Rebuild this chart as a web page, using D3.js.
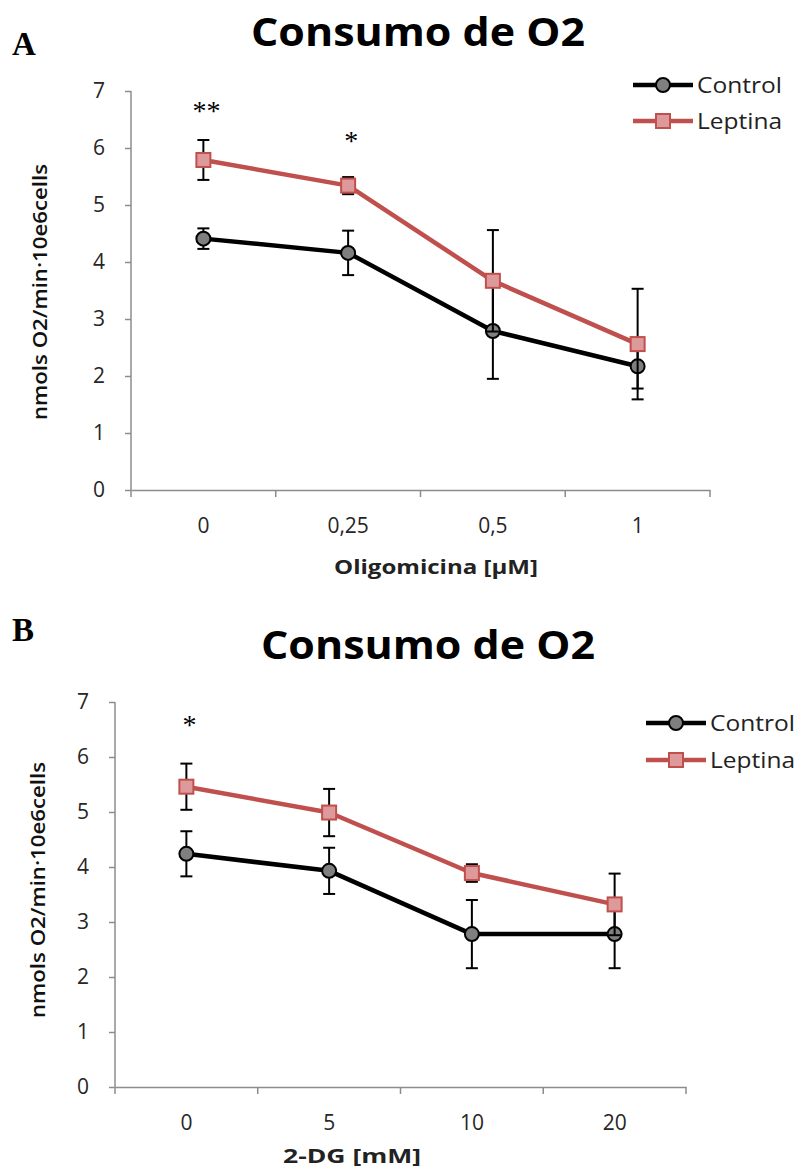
<!DOCTYPE html>
<html><head>
<meta charset="UTF-8">
<title>Consumo de O2</title>
<style>
  body { margin: 0; padding: 0; background: #fff; }
  svg { display: block; }
</style>
</head>
<body>
<svg id="chart" width="804" height="1171"></svg>
<script src="https://d3js.org/d3.v7.min.js"></script>
<script>
  // values
  const yTicks = [0, 1, 2, 3, 4, 5, 6, 7];

  const doseA = ["0", "0,25", "0,5", "1"];
  const controlA = [4.41, 4.16, 2.79, 2.17];
  const controlErrA = [0.18, 0.39, 0.84, 0.39];
  const leptinaA = [5.79, 5.34, 3.67, 2.56];
  const leptinaErrA = [0.35, 0.15, 0.89, 0.97];
  const starsA = ["**", "*", "", ""];
  const starLevelA = [6.7, 6.18, 0, 0];

  const doseB = ["0", "5", "10", "20"];
  const controlB = [4.24, 3.93, 2.78, 2.78];
  const controlErrB = [0.41, 0.42, 0.62, 0.62];
  const leptinaB = [5.46, 4.99, 3.89, 3.32];
  const leptinaErrB = [0.42, 0.43, 0.16, 0.56];
  const starsB = ["*", "", "", ""];
  const starLevelB = [6.63, 0, 0, 0];

  const seriesNames = ["Control", "Leptina"];

  const svg = d3.select("#chart");
  const sans = "'Open Sans', 'Noto Sans', sans-serif";
  const serif = "'Liberation Serif', 'DejaVu Serif', serif";
  const red = "#C0504D";

  function drawPanel(p) {
    const g = svg.append("g");

    // panel letter + title
    g.append("text").attr("x", 12).attr("y", p.letterY)
      .attr("font-family", serif).attr("font-weight", "bold").attr("font-size", 33)
      .text(p.letter);
    g.append("text").attr("x", p.titleX).attr("y", p.titleY)
      .attr("text-anchor", "middle")
      .attr("font-family", sans).attr("font-weight", "bold").attr("font-size", 39)
      .attr("textLength", 334).attr("lengthAdjust", "spacingAndGlyphs")
      .text("Consumo de O2");

    const x = d3.scaleBand().domain(p.dose).range([p.x0, p.x1]);
    const y = d3.scaleLinear().domain([0, 7]).range([p.y0, p.y1]);
    const cx = d => x(d) + x.bandwidth() / 2;

    // y axis
    const yAxis = g.append("g").attr("transform", `translate(${p.x0},0)`)
      .call(d3.axisLeft(y).tickValues(yTicks).tickSize(6).tickPadding(p.yPad).tickFormat(d3.format("d")));
    yAxis.select(".domain").attr("stroke", "#8c8c8c").attr("stroke-width", 1.5)
      .attr("d", `M0,${p.y1}V${p.y0}`);
    yAxis.selectAll(".tick line").attr("stroke", "#8c8c8c").attr("stroke-width", 1.5);
    yAxis.selectAll(".tick text").attr("font-family", sans).attr("font-size", 21).attr("fill", "#262626");

    // x axis
    const xAxis = g.append("g").attr("transform", `translate(0,${p.y0})`)
      .call(d3.axisBottom(x).tickSize(0).tickPadding(p.xPad));
    xAxis.select(".domain").attr("stroke", "#8c8c8c").attr("stroke-width", 1.5);
    xAxis.selectAll(".tick text").attr("font-family", sans).attr("font-size", 21).attr("fill", "#262626");
    const bounds = p.dose.map(d => x(d)).concat([p.x1]);
    xAxis.selectAll(".bound").data(bounds).join("line")
      .attr("x1", d => d).attr("x2", d => d).attr("y1", 0).attr("y2", 7)
      .attr("stroke", "#8c8c8c").attr("stroke-width", 1.5);

    // axis titles
    g.append("text").attr("x", p.xTitleX).attr("y", p.xTitleY)
      .attr("text-anchor", "middle")
      .attr("font-family", sans).attr("font-weight", "bold").attr("font-size", 20).attr("fill", "#222")
      .attr("textLength", p.xTitleLen).attr("lengthAdjust", "spacingAndGlyphs")
      .text(p.xTitle);
    g.append("text")
      .attr("transform", `translate(${p.yTitleX},${p.yTitleY}) rotate(-90)`)
      .attr("text-anchor", "middle")
      .attr("font-family", sans).attr("font-weight", 600).attr("font-size", 19).attr("fill", "#111")
      .attr("textLength", 256).attr("lengthAdjust", "spacingAndGlyphs")
      .text("nmols O2/min·10e6cells");

    const line = d3.line().x((v, i) => cx(p.dose[i])).y(v => y(v));

    function errorBars(vals, errs) {
      const eg = g.append("g").attr("stroke", "#000").attr("stroke-width", 2);
      vals.forEach((v, i) => {
        const xc = cx(p.dose[i]);
        eg.append("line").attr("x1", xc).attr("x2", xc)
          .attr("y1", y(v - errs[i])).attr("y2", y(v + errs[i]));
        [v - errs[i], v + errs[i]].forEach(e => {
          eg.append("line").attr("x1", xc - 6).attr("x2", xc + 6)
            .attr("y1", y(e)).attr("y2", y(e));
        });
      });
    }

    // Control series
    g.append("path").datum(p.control).attr("d", line)
      .attr("fill", "none").attr("stroke", "#000").attr("stroke-width", 4.5).attr("stroke-linejoin", "round");
    errorBars(p.control, p.controlErr);
    g.selectAll(".cm").data(p.control).join("circle")
      .attr("cx", (v, i) => cx(p.dose[i])).attr("cy", v => y(v)).attr("r", 7)
      .attr("fill", "#7f7f7f").attr("stroke", "#000").attr("stroke-width", 2);

    // Leptina series
    g.append("path").datum(p.leptina).attr("d", line)
      .attr("fill", "none").attr("stroke", red).attr("stroke-width", 4.5).attr("stroke-linejoin", "round");
    errorBars(p.leptina, p.leptinaErr);
    g.selectAll(".lm").data(p.leptina).join("rect")
      .attr("x", (v, i) => cx(p.dose[i]) - 7).attr("y", v => y(v) - 7)
      .attr("width", 14).attr("height", 14)
      .attr("fill", "#DE9A9A").attr("stroke", red).attr("stroke-width", 2);

    // significance marks
    p.stars.forEach((s, i) => {
      if (!s) return;
      g.append("text").attr("x", cx(p.dose[i]) + 3).attr("y", y(p.starLevel[i]) + 12)
        .attr("text-anchor", "middle")
        .attr("font-family", serif).attr("font-size", 28).attr("fill", "#000")
        .text(s);
    });

    // legend
    const lg = g.append("g");
    seriesNames.forEach((name, i) => {
      const ly = p.legY + i * p.legGap;
      const col = i === 0 ? "#000" : red;
      lg.append("line").attr("x1", p.legX).attr("x2", p.legX + 60).attr("y1", ly).attr("y2", ly)
        .attr("stroke", col).attr("stroke-width", 4.5);
      if (i === 0) {
        lg.append("circle").attr("cx", p.legX + 30).attr("cy", ly).attr("r", 7)
          .attr("fill", "#7f7f7f").attr("stroke", "#000").attr("stroke-width", 2);
      } else {
        lg.append("rect").attr("x", p.legX + 23).attr("y", ly - 7).attr("width", 14).attr("height", 14)
          .attr("fill", "#DE9A9A").attr("stroke", red).attr("stroke-width", 2);
      }
      lg.append("text").attr("x", p.legX + 64).attr("y", ly + 8)
        .attr("font-family", sans).attr("font-size", 22).attr("fill", "#222")
        .attr("textLength", 85).attr("lengthAdjust", "spacingAndGlyphs")
        .text(name);
    });
  }

  drawPanel({
    letter: "A", letterY: 55, titleX: 418, titleY: 46,
    dose: doseA, control: controlA, controlErr: controlErrA,
    leptina: leptinaA, leptinaErr: leptinaErrA,
    stars: starsA, starLevel: starLevelA,
    x0: 131, x1: 710, y0: 490, y1: 91, yPad: 20, xPad: 28,
    xTitle: "Oligomicina [µM]", xTitleX: 436, xTitleY: 574, xTitleLen: 204,
    yTitleX: 47, yTitleY: 292,
    legX: 633, legY: 85, legGap: 36
  });

  drawPanel({
    letter: "B", letterY: 641, titleX: 428, titleY: 659,
    dose: doseB, control: controlB, controlErr: controlErrB,
    leptina: leptinaB, leptinaErr: leptinaErrB,
    stars: starsB, starLevel: starLevelB,
    x0: 115, x1: 686, y0: 1087, y1: 702, yPad: 20, xPad: 28,
    xTitle: "2-DG [mM]", xTitleX: 352, xTitleY: 1163, xTitleLen: 138,
    yTitleX: 45, yTitleY: 890,
    legX: 646, legY: 723, legGap: 37
  });
</script>
</body></html>
